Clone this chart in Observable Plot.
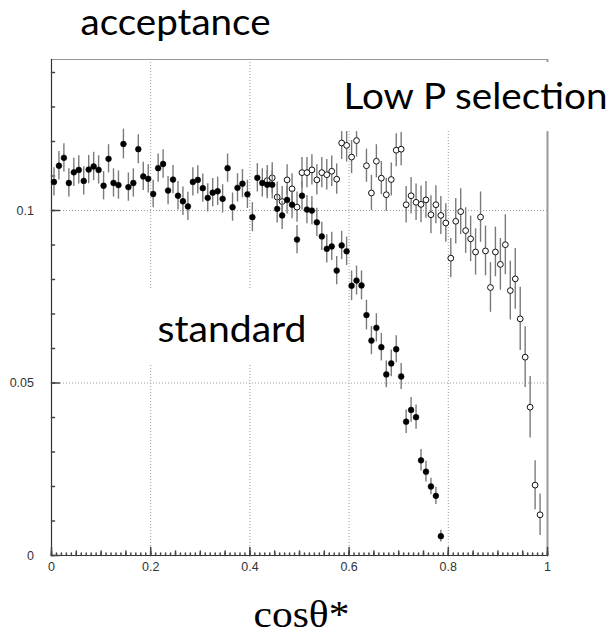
<!DOCTYPE html>
<html>
<head>
<meta charset="utf-8">
<script src="https://cdn.jsdelivr.net/npm/d3@7"></script>
<script src="https://cdn.jsdelivr.net/npm/@observablehq/plot@0.6"></script>
<style>
  html, body { margin: 0; padding: 0; background: #fff; }
</style>
</head>
<body>
<div id="chart"></div>
<script>
// Histogram bins of cos(theta*) from 0 to 1, width 0.01
const binWidth = 0.01;
const binCenters = d3.range(100).map(i => (i + 0.5) * binWidth);

// Standard selection: acceptance per bin, starting at bin 0
const standardAcc = [
  0.1083, 0.1130, 0.1153, 0.1080, 0.1111, 0.1118, 0.1086, 0.1119, 0.1128, 0.1118,
  0.1072, 0.1150, 0.1080, 0.1074, 0.1193, 0.1068, 0.1080, 0.1178, 0.1099, 0.1092,
  0.1048, 0.1123, 0.1135, 0.1058, 0.1090, 0.1043, 0.1027, 0.1012, 0.1083, 0.1089,
  0.1065, 0.1037, 0.1052, 0.1056, 0.1034, 0.1123, 0.1010, 0.1066, 0.1078, 0.1047,
  0.0981, 0.1095, 0.1080, 0.1075, 0.1075, 0.1005, 0.0986, 0.1031, 0.1017, 0.0916,
  0.1043, 0.1003, 0.1000, 0.0966, 0.0925, 0.0889, 0.0896, 0.0826, 0.0899, 0.0882,
  0.0782, 0.0797, 0.0783, 0.0697, 0.0623, 0.0660, 0.0604, 0.0525, 0.0557, 0.0598,
  0.0519, 0.0388, 0.0422, 0.0401, 0.0276, 0.0243, 0.0200, 0.0173, 0.0056
];
const standardErr = [
  0.0041, 0.0041, 0.0041, 0.0041, 0.0041, 0.0041, 0.0041, 0.0041, 0.0041, 0.0041,
  0.0041, 0.0041, 0.0041, 0.0041, 0.0043, 0.0041, 0.0041, 0.0042, 0.0041, 0.0041,
  0.0040, 0.0041, 0.0041, 0.0041, 0.0041, 0.0041, 0.0041, 0.0041, 0.0041, 0.0041,
  0.0041, 0.0041, 0.0041, 0.0041, 0.0041, 0.0041, 0.0041, 0.0041, 0.0041, 0.0041,
  0.0042, 0.0041, 0.0041, 0.0041, 0.0041, 0.0041, 0.0041, 0.0041, 0.0041, 0.0041,
  0.0041, 0.0041, 0.0041, 0.0041, 0.0041, 0.0041, 0.0041, 0.0041, 0.0041, 0.0041,
  0.0043, 0.0042, 0.0042, 0.0043, 0.0041, 0.0041, 0.0040, 0.0039, 0.0039, 0.0039,
  0.0038, 0.0034, 0.0036, 0.0035, 0.0031, 0.0030, 0.0024, 0.0025, 0.0017
];

// Low P selection: acceptance per bin, starting at bin 43
const lowPFirstBin = 43;
const lowPAcc = [
  0.1087, 0.1095, 0.1039, 0.1026, 0.1089, 0.1063, 0.1010, 0.1110, 0.1110, 0.1118,
  0.1089, 0.1110, 0.1104, 0.1114, 0.1091, 0.1196, 0.1189, 0.1155, 0.1203, 0.1290,
  0.1130, 0.1051, 0.1143, 0.1094, 0.1046, 0.1090, 0.1175, 0.1178, 0.1017, 0.1043,
  0.1024, 0.1018, 0.1031, 0.0988, 0.1017, 0.0986, 0.0964, 0.0862, 0.0969, 0.0997,
  0.0942, 0.0918, 0.0880, 0.0981, 0.0883, 0.0777, 0.0880, 0.0844, 0.0901, 0.0768,
  0.0802, 0.0686, 0.0575, 0.0430, 0.0204, 0.0118
];
const lowPErr = [
  0.0044, 0.0044, 0.0044, 0.0044, 0.0044, 0.0044, 0.0044, 0.0044, 0.0044, 0.0044,
  0.0044, 0.0044, 0.0044, 0.0044, 0.0044, 0.0048, 0.0048, 0.0048, 0.0048, 0.0048,
  0.0048, 0.0051, 0.0048, 0.0048, 0.0048, 0.0048, 0.0048, 0.0048, 0.0053, 0.0053,
  0.0053, 0.0053, 0.0053, 0.0055, 0.0055, 0.0055, 0.0056, 0.0057, 0.0066, 0.0066,
  0.0066, 0.0066, 0.0067, 0.0073, 0.0072, 0.0072, 0.0072, 0.0075, 0.0087, 0.0085,
  0.0088, 0.0092, 0.0088, 0.0089, 0.0071, 0.0060
];

// Axis ticks and labels
const xTicks = [0, 0.2, 0.4, 0.6, 0.8, 1];
const xTickLabels = ["0", "0.2", "0.4", "0.6", "0.8", "1"];
const yTicks = [0, 0.05, 0.1];
const yTickLabels = ["0", "0.05", "0.1"];
const xGrid = [0.2, 0.4, 0.6, 0.8];
const yGrid = [0.05, 0.1];
const yMax = 0.1438;

const standard = standardAcc.map((v, i) => ({x: binCenters[i], v, e: standardErr[i]}));
const lowP = lowPAcc.map((v, i) => ({x: binCenters[lowPFirstBin + i], v, e: lowPErr[i]}));

const xMinor = d3.range(0, 101).map(i => i / 100);
const xMid = d3.range(0, 21).map(i => i / 20);
const yMinor = d3.range(0, 15).map(i => i / 100);

// short tick stroke drawn from the anchor point along the vector direction
const tickShape = {draw(context, l) { context.moveTo(0, 0); context.lineTo(0, -l); }};
const tickColor = "#444";

const labels = [
  {text: "acceptance", x: 0.0585, y: 0.1510, font: "Lato", size: 36, width: 190},
  {text: "Low P selection", x: 0.5887, y: 0.12957, font: "Lato", size: 36, width: 264},
  {text: "standard", x: 0.2137, y: 0.06188, font: "Lato", size: 36, width: 149},
  {text: "cosθ*", x: 0.4073, y: -0.0206, font: "Liberation Serif", size: 38, width: 96}
];

const chart = Plot.plot({
  width: 611,
  height: 638,
  marginLeft: 51,
  marginRight: 64,
  marginTop: 59,
  marginBottom: 83,
  style: {background: "#fff", fontFamily: "Liberation Sans", overflow: "visible"},
  x: {domain: [0, 1]},
  y: {domain: [0, yMax]},
  marks: [
    // dotted grid
    Plot.ruleX(xGrid, {stroke: "#9a9a9a", strokeDasharray: "1,2", strokeWidth: 1}),
    Plot.ruleY(yGrid, {stroke: "#9a9a9a", strokeDasharray: "1,2", strokeWidth: 1}),
    // frame
    Plot.ruleY([yMax], {stroke: "#999", strokeWidth: 1}),
    Plot.ruleX([1], {stroke: "#999", strokeWidth: 2}),
    Plot.ruleX([0], {stroke: "#333", strokeWidth: 1.2}),
    Plot.ruleY([0], {stroke: "#333", strokeWidth: 1.2}),
    // inward tick marks
    Plot.vector(xMinor, {x: d => d, y: () => 0, length: 2.5, anchor: "start", shape: tickShape, stroke: tickColor}),
    Plot.vector(xMid, {x: d => d, y: () => 0, length: 4.5, anchor: "start", shape: tickShape, stroke: tickColor}),
    Plot.vector(xTicks, {x: d => d, y: () => 0, length: 8, anchor: "start", shape: tickShape, stroke: tickColor}),
    Plot.vector(yMinor, {x: () => 0, y: d => d, length: 3, rotate: 90, anchor: "start", shape: tickShape, stroke: tickColor}),
    Plot.vector(yTicks, {x: () => 0, y: d => d, length: 8, rotate: 90, anchor: "start", shape: tickShape, stroke: tickColor}),
    // tick labels
    Plot.axisX({ticks: xTicks, tickFormat: d => xTickLabels[xTicks.indexOf(d)], tickSize: 0, tickPadding: 7, fontSize: 12.5, color: "#333", label: null}),
    Plot.axisY({ticks: yTicks, tickFormat: d => yTickLabels[yTicks.indexOf(d)], tickSize: 0, tickPadding: 17.5, fontSize: 12.5, color: "#333", label: null}),
    // Low P selection: open circles
    Plot.ruleX(lowP, {x: "x", y1: d => d.v - d.e, y2: d => d.v + d.e, stroke: "#7a7a7a", strokeWidth: 1.4}),
    Plot.dot(lowP, {x: "x", y: "v", r: 2.9, fill: "#fff", stroke: "#111", strokeWidth: 1}),
    // standard selection: filled circles
    Plot.ruleX(standard, {x: "x", y1: d => d.v - d.e, y2: d => d.v + d.e, stroke: "#7a7a7a", strokeWidth: 1.4}),
    Plot.dot(standard, {x: "x", y: "v", r: 2.9, fill: "#000", stroke: "#000", strokeWidth: 0.5}),
    // white panels behind the annotations
    Plot.rect([{x1: 0.546, x2: 1.129, y1: 0.1229, y2: 0.1429}], {x1: "x1", x2: "x2", y1: "y1", y2: "y2", fill: "#fff"}),
    Plot.rect([{x1: 0.19, x2: 0.53, y1: 0.0551, y2: 0.0768}], {x1: "x1", x2: "x2", y1: "y1", y2: "y2", fill: "#fff"}),
    // annotations
    ...labels.map(l => Plot.text([l], {x: "x", y: "y", text: "text", textAnchor: "start", lineAnchor: "bottom",
      fontFamily: l.font, fontSize: l.size, fill: "#000"}))
  ]
});

// stretch annotation text to its set width
chart.querySelectorAll("text").forEach(t => {
  const l = labels.find(d => d.text === t.textContent);
  if (l) {
    t.setAttribute("textLength", l.width);
    t.setAttribute("lengthAdjust", "spacingAndGlyphs");
  }
});

document.getElementById("chart").appendChild(chart);
</script>
</body>
</html>
